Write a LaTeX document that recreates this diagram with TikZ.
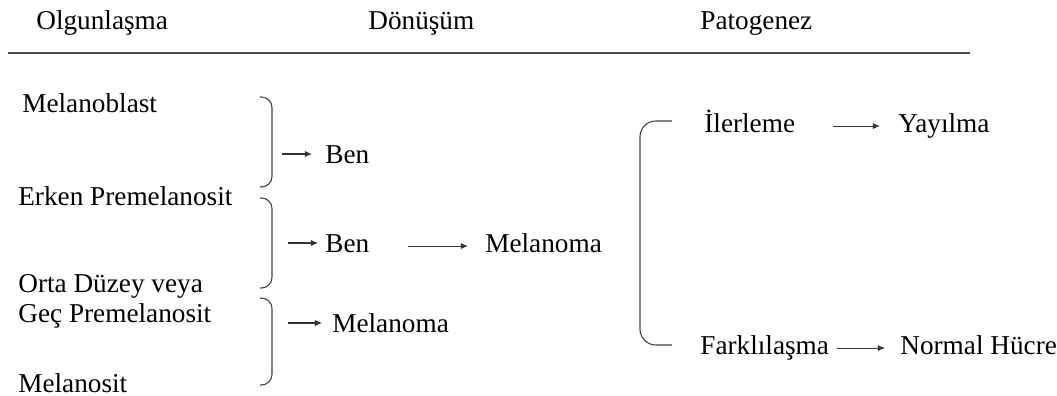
\documentclass[tikz,border=0pt]{standalone}
\usepackage{fontspec}
\setmainfont{Liberation Serif}
\usetikzlibrary{arrows.meta}

\tikzset{
  lbl/.style={anchor=west,inner sep=0pt,text height=11pt,text depth=3.5pt,yshift=-1.75pt},
  brc/.style={draw=black!75,line width=.6pt,rounded corners=6pt},
  arr/.style={draw=black!80,line width=.6pt,-{Latex[length=4pt,width=3.5pt]}}
}

\begin{document}
\begin{tikzpicture}[font=\fontsize{15.5}{18}\selectfont]
\useasboundingbox (0,0) rectangle (21.14,-7.92);
% headers
\node[lbl] (hOlg) at (0.72,-0.40) {Olgunlaşma};
\node[lbl] (hDon) at (7.36,-0.40) {Dönüşüm};
\node[lbl] (hPat) at (14.0,-0.40) {Patogenez};
\draw[black!70,line width=1pt] (0.16,-1.06) -- (19.4,-1.06);
% stages
\node[lbl] (mblast) at (0.44,-2.06) {Melanoblast};
\node[lbl] (erken) at (0.36,-3.92) {Erken Premelanosit};
\node[lbl] (orta) at (0.36,-5.66) {Orta Düzey veya};
\node[lbl] (gec) at (0.36,-6.26) {Geç Premelanosit};
\node[lbl] (msit) at (0.36,-7.66) {Melanosit};
\path[brc] (5.2,-1.94) -- (5.44,-1.94) -- (5.44,-3.74) -- (5.2,-3.74);
\path[brc] (5.2,-3.96) -- (5.44,-3.96) -- (5.44,-5.76) -- (5.2,-5.76);
\path[brc] (5.2,-5.96) -- (5.44,-5.96) -- (5.44,-7.70) -- (5.2,-7.70);
% results
\coordinate (b1) at (5.64,-3.08);
\coordinate (b2) at (5.76,-4.86);
\coordinate (b3) at (5.76,-6.46);
\node[lbl] (ben1) at (6.5,-3.08) {Ben};
\node[lbl] (ben2) at (6.5,-4.86) {Ben};
\node[lbl] (mel1) at (6.64,-6.46) {Melanoma};
\node[lbl] (mel2) at (9.7,-4.86) {Melanoma};
\draw[arr,shorten >=0.26cm] (b1) -- (b1 -| ben1.west);
\draw[arr,shorten >=0.14cm] (b2) -- (b2 -| ben2.west);
\draw[arr,shorten >=0.2cm] (b3) -- (b3 -| mel1.west);
\draw[arr,shorten <=0.76cm,shorten >=0.34cm] (ben2.east) -- (mel2.west);
% pathogenesis
\path[brc,rounded corners=9pt] (13.44,-2.42) -- (12.8,-2.42) -- (12.8,-6.9) -- (13.44,-6.9);
\node[lbl] (iler) at (14.08,-2.46) {İlerleme};
\node[lbl] (yay) at (17.96,-2.46) {Yayılma};
\node[lbl] (fark) at (14.0,-6.9) {Farklılaşma};
\node[lbl] (norm) at (18.0,-6.9) {Normal Hücre};
\draw[arr,shorten <=0.76cm,shorten >=0.36cm] (iler.east) -- (yay.west);
\draw[arr,shorten <=0.16cm,shorten >=0.30cm] (fark.east) -- (norm.west);
\end{tikzpicture}
\end{document}
